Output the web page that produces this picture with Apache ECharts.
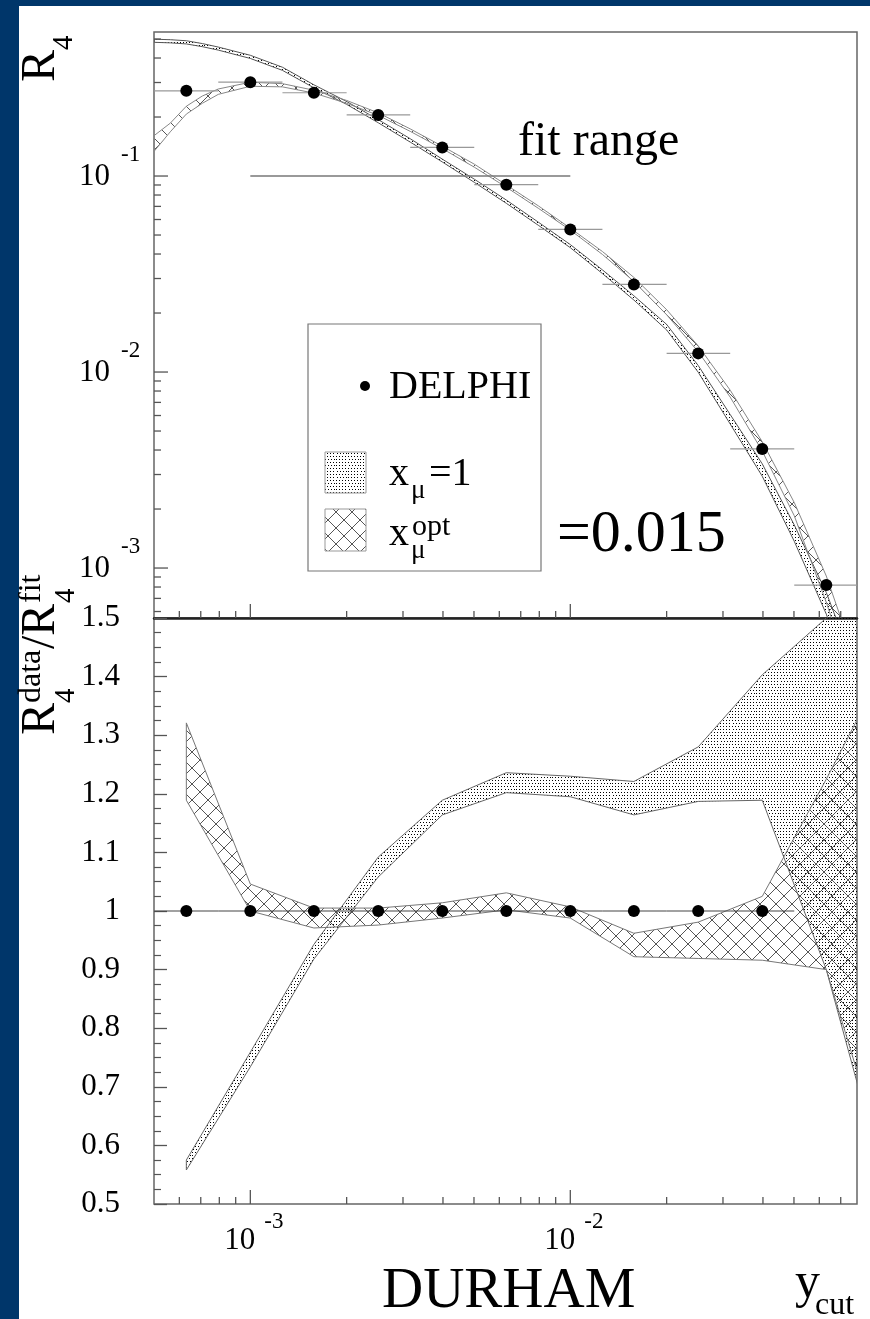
<!DOCTYPE html>
<html>
<head>
<meta charset="utf-8">
<title>R4 DURHAM</title>
<script src="https://cdn.jsdelivr.net/npm/echarts@6/dist/echarts.min.js"></script>
<style>
  html, body { margin: 0; padding: 0; background: #fff; }
  #main { width: 870px; height: 1319px; }
</style>
</head>
<body>
<div id="main"></div>
<script>
// ---- data ----
// DELPHI points (bin centres) and bin edges
var ycut = [6.31e-4, 1.0e-3, 1.58e-3, 2.51e-3, 3.98e-3, 6.31e-3, 1.0e-2, 1.58e-2, 2.51e-2, 3.98e-2, 6.31e-2];
var r4Data = [0.272, 0.301, 0.266, 0.205, 0.140, 0.0903, 0.0534, 0.0280, 0.01245, 0.00405, 0.000819];
var binEdges = [5.01e-4, 7.94e-4, 1.26e-3, 2.0e-3, 3.16e-3, 5.01e-3, 7.94e-3, 1.26e-2, 2.0e-2, 3.16e-2, 5.01e-2, 7.94e-2];
var ratioData = [1, 1, 1, 1, 1, 1, 1, 1, 1, 1];
var fitRange = [1.0e-3, 1.0e-2];
var fitLevel = 0.1;

// theory bands, upper panel
var curveX = [5.01e-4, 5.62e-4, 6.31e-4, 7.08e-4, 7.94e-4, 1.0e-3, 1.26e-3, 1.58e-3, 2.0e-3, 2.51e-3,
              3.16e-3, 3.98e-3, 5.01e-3, 6.31e-3, 7.94e-3, 1.0e-2, 1.26e-2, 1.58e-2, 2.0e-2, 2.51e-2,
              3.16e-2, 3.98e-2, 5.01e-2, 6.31e-2, 7.08e-2];
var mu1Low  = [0.481, 0.478, 0.472, 0.457, 0.439, 0.398, 0.346, 0.282, 0.232, 0.187,
               0.149, 0.118, 0.0929, 0.0726, 0.0561, 0.0431, 0.0318, 0.0233, 0.0164, 0.00998,
               0.00543, 0.00294, 0.00137, 0.000582, 0.000347];
var mu1High = [0.499, 0.496, 0.490, 0.474, 0.455, 0.413, 0.359, 0.292, 0.240, 0.194,
               0.155, 0.122, 0.0964, 0.0754, 0.0582, 0.0447, 0.0332, 0.0245, 0.0175, 0.0108,
               0.00607, 0.00340, 0.00166, 0.000750, 0.000457];
var optLow  = [0.134, 0.168, 0.207, 0.235, 0.261, 0.287, 0.285, 0.265, 0.235, 0.204,
               0.169, 0.138, 0.111, 0.0877, 0.0685, 0.0530, 0.0398, 0.0290, 0.0196, 0.0127,
               0.00745, 0.00395, 0.00185, 0.000668, 0.000380];
var optHigh = [0.161, 0.186, 0.227, 0.256, 0.278, 0.301, 0.296, 0.274, 0.243, 0.210,
               0.174, 0.142, 0.115, 0.0901, 0.0705, 0.0542, 0.0412, 0.0304, 0.0208, 0.0136,
               0.00808, 0.00441, 0.00216, 0.000910, 0.000530];

// ratio bands, lower panel
var ratioX = [6.31e-4, 1.0e-3, 1.58e-3, 2.51e-3, 3.98e-3, 6.31e-3, 1.0e-2, 1.58e-2, 2.51e-2, 3.98e-2, 6.31e-2, 7.94e-2];
var ratioMu1Low  = [0.558, 0.734, 0.918, 1.058, 1.164, 1.202, 1.195, 1.164, 1.187, 1.189, 0.900, 0.70];
var ratioMu1High = [0.575, 0.759, 0.943, 1.092, 1.189, 1.236, 1.230, 1.221, 1.280, 1.403, 1.50, 1.60];
var ratioOptLow  = [1.189, 1.000, 0.971, 0.976, 0.988, 1.002, 0.988, 0.922, 0.919, 0.916, 0.900, 0.72];
var ratioOptHigh = [1.321, 1.046, 1.005, 1.005, 1.014, 1.031, 1.007, 0.962, 0.981, 1.025, 1.225, 1.33];

// ticks and tick labels
var xMajorTicks = [1e-3, 1e-2];
var xMinorTicks = [6e-4, 7e-4, 8e-4, 9e-4, 2e-3, 3e-3, 4e-3, 5e-3, 6e-3, 7e-3, 8e-3, 9e-3,
                   2e-2, 3e-2, 4e-2, 5e-2, 6e-2, 7e-2];
var xTickExps = ['-3', '-2'];
var yMajorTicks = [1e-3, 1e-2, 1e-1];
var yMinorTicks = [6e-4, 7e-4, 8e-4, 9e-4, 2e-3, 3e-3, 4e-3, 5e-3, 6e-3, 7e-3, 8e-3, 9e-3,
                   2e-2, 3e-2, 4e-2, 5e-2, 6e-2, 7e-2, 8e-2, 9e-2, 0.2, 0.3, 0.4, 0.5];
var yTickExps = ['-3', '-2', '-1'];
var ratioLabels = ['0.5', '0.6', '0.7', '0.8', '0.9', '1', '1.1', '1.2', '1.3', '1.4', '1.5'];

// ---- styles ----
var NAVY = '#00366a';
var SERIF = '"Liberation Serif", "Times New Roman", serif';
function f(px) { return px + 'px ' + SERIF; }

// fill patterns
function makeDots() {
    var c = document.createElement('canvas');
    c.width = 24; c.height = 24;
    var g = c.getContext('2d');
    g.fillStyle = '#000';
    for (var y = 0; y < 24; y += 3) {
        for (var x = 0; x < 24; x += 3) {
            var alt = (x < 12) !== (y < 12);
            g.fillRect(alt ? x + (y / 3) % 2 : x, y, 1, 1);
        }
    }
    return c;
}
function makeHatch() {
    var s = 16;
    var c = document.createElement('canvas');
    c.width = s; c.height = s;
    var g = c.getContext('2d');
    g.strokeStyle = '#555';
    g.lineWidth = 1;
    g.beginPath();
    g.moveTo(-2, -2); g.lineTo(s + 2, s + 2);
    g.moveTo(s + 2, -2); g.lineTo(-2, s + 2);
    g.stroke();
    return c;
}
var dotFill = { image: makeDots(), repeat: 'repeat' };
var hatchFill = { image: makeHatch(), repeat: 'repeat' };

// ---- series helpers ----
function bandSeries(gi, xs, lo, hi, fill, edge, z) {
    var rows = xs.map(function (x, i) { return [x, lo[i], hi[i]]; });
    return {
        type: 'custom', xAxisIndex: gi, yAxisIndex: gi, clip: true, silent: true, z: z,
        data: rows,
        renderItem: function (params, api) {
            if (params.dataIndex !== 0) return;
            var a = rows.map(function (r) { return api.coord([r[0], r[1]]); });
            var b = rows.map(function (r) { return api.coord([r[0], r[2]]); }).reverse();
            return {
                type: 'polygon',
                shape: { points: a.concat(b) },
                style: { fill: fill, stroke: edge, lineWidth: 1 }
            };
        }
    };
}

function errSeries(gi, xs, ys, color) {
    var rows = xs.map(function (x, i) { return [x, ys[i], binEdges[i], binEdges[i + 1]]; });
    return {
        type: 'custom', xAxisIndex: gi, yAxisIndex: gi, clip: true, silent: true, z: 3,
        data: rows,
        renderItem: function (params, api) {
            var a = api.coord([api.value(2), api.value(1)]);
            var b = api.coord([api.value(3), api.value(1)]);
            return {
                type: 'line',
                shape: { x1: a[0], y1: a[1], x2: b[0], y2: b[1] },
                style: { stroke: color, lineWidth: 1.2 }
            };
        }
    };
}

function xTickSeries(gi, ticks, len, yRef) {
    return {
        type: 'custom', xAxisIndex: gi, yAxisIndex: gi, silent: true, z: 6,
        data: ticks.map(function (t) { return [t, yRef]; }),
        renderItem: function (params, api) {
            var cs = params.coordSys;
            var x = api.coord([api.value(0), api.value(1)])[0];
            var yb = cs.y + cs.height;
            return {
                type: 'line',
                shape: { x1: x, y1: yb, x2: x, y2: yb - len },
                style: { stroke: '#555', lineWidth: 1.3 }
            };
        }
    };
}

function yTickSeries(gi, ticks, len, xRef) {
    return {
        type: 'custom', xAxisIndex: gi, yAxisIndex: gi, silent: true, z: 6,
        data: ticks.map(function (t) { return [xRef, t]; }),
        renderItem: function (params, api) {
            var cs = params.coordSys;
            var y = api.coord([api.value(0), api.value(1)])[1];
            return {
                type: 'line',
                shape: { x1: cs.x, y1: y, x2: cs.x + len, y2: y },
                style: { stroke: '#555', lineWidth: 1.3 }
            };
        }
    };
}

// "10" with a raised exponent under the x axis
function xLabelSeries(gi, ticks, exps, yRef) {
    return {
        type: 'custom', xAxisIndex: gi, yAxisIndex: gi, silent: true, z: 6,
        data: ticks.map(function (t) { return [t, yRef]; }),
        renderItem: function (params, api) {
            var cs = params.coordSys;
            var x = api.coord([api.value(0), api.value(1)])[0];
            var yb = cs.y + cs.height;
            return {
                type: 'group',
                children: [
                    { type: 'text', style: { text: '10', x: x + 5, y: yb + 37, font: f(31), fill: '#000', align: 'right', verticalAlign: 'middle' } },
                    { type: 'text', style: { text: exps[params.dataIndex], x: x + 14, y: yb + 18, font: f(23), fill: '#000', align: 'left', verticalAlign: 'middle' } }
                ]
            };
        }
    };
}

// "10" with a raised exponent left of the log y axis
function yLabelSeries(gi, ticks, exps, xRef) {
    return {
        type: 'custom', xAxisIndex: gi, yAxisIndex: gi, silent: true, z: 6,
        data: ticks.map(function (t) { return [xRef, t]; }),
        renderItem: function (params, api) {
            var cs = params.coordSys;
            var y = api.coord([api.value(0), api.value(1)])[1];
            return {
                type: 'group',
                children: [
                    { type: 'text', style: { text: '10', x: cs.x - 44, y: y + 1, font: f(31), fill: '#000', align: 'right', verticalAlign: 'middle' } },
                    { type: 'text', style: { text: exps[params.dataIndex], x: cs.x - 33, y: y - 21, font: f(23), fill: '#000', align: 'left', verticalAlign: 'middle' } }
                ]
            };
        }
    };
}

function txt(text, x, y, size, align) {
    return { type: 'text', x: x, y: y, style: { text: text, font: f(size), fill: '#000', align: align || 'left', verticalAlign: 'middle' } };
}

var chart = echarts.init(document.getElementById('main'));

var option = {
    backgroundColor: '#fff',
    animation: false,
    grid: [
        { left: 154, top: 32, width: 703, height: 586, show: true, borderColor: '#666', borderWidth: 1.5, outerBoundsMode: 'none', containLabel: false },
        { left: 154, top: 618, width: 703, height: 586, show: true, borderColor: '#666', borderWidth: 1.5, outerBoundsMode: 'none', containLabel: false }
    ],
    xAxis: [
        {
            gridIndex: 0, type: 'log', logBase: 10, min: 5e-4, max: 0.0787,
            axisLine: { show: true, onZero: false, lineStyle: { color: '#222', width: 2.5 } },
            axisTick: { show: false }, axisLabel: { show: false }, splitLine: { show: false }
        },
        {
            gridIndex: 1, type: 'log', logBase: 10, min: 5e-4, max: 0.0787,
            axisLine: { show: false }, axisTick: { show: false }, axisLabel: { show: false }, splitLine: { show: false }
        }
    ],
    yAxis: [
        {
            gridIndex: 0, type: 'log', logBase: 10, min: 5.56e-4, max: 0.543,
            axisLine: { show: false }, axisTick: { show: false }, axisLabel: { show: false }, splitLine: { show: false }
        },
        {
            gridIndex: 1, type: 'value', min: 0.5, max: 1.5, interval: 0.1,
            axisLine: { show: false },
            axisTick: { show: true, inside: true, length: 13, lineStyle: { color: '#555', width: 1.3 } },
            minorTick: { show: true, splitNumber: 4, length: 7, lineStyle: { color: '#555', width: 1.2 } },
            splitLine: { show: false }, minorSplitLine: { show: false },
            axisLabel: {
                margin: 34, fontSize: 31, fontFamily: SERIF, color: '#000',
                formatter: function (v) { return ratioLabels[Math.round((v - 0.5) * 10)]; }
            }
        }
    ],
    series: [
        // upper panel
        bandSeries(0, curveX, mu1Low, mu1High, dotFill, '#555', 2),
        bandSeries(0, curveX, optLow, optHigh, hatchFill, '#888', 2),
        errSeries(0, ycut, r4Data, '#999'),
        {
            type: 'line', xAxisIndex: 0, yAxisIndex: 0, silent: true, symbol: 'none', z: 3,
            lineStyle: { color: '#777', width: 1.3 },
            data: [[fitRange[0], fitLevel], [fitRange[1], fitLevel]]
        },
        {
            type: 'scatter', xAxisIndex: 0, yAxisIndex: 0, silent: true, z: 5,
            symbol: 'circle', symbolSize: 12, itemStyle: { color: '#000', opacity: 1 },
            data: ycut.map(function (x, i) { return [x, r4Data[i]]; })
        },
        xTickSeries(0, xMinorTicks, 7, 0.01),
        xTickSeries(0, xMajorTicks, 14, 0.01),
        yTickSeries(0, yMinorTicks, 7, 1e-3),
        yTickSeries(0, yMajorTicks, 14, 1e-3),
        yLabelSeries(0, yMajorTicks, yTickExps, 1e-3),

        // lower panel
        bandSeries(1, ratioX, ratioMu1Low, ratioMu1High, dotFill, '#666', 2),
        bandSeries(1, ratioX, ratioOptLow, ratioOptHigh, hatchFill, '#777', 2),
        errSeries(1, ycut.slice(0, ratioData.length), ratioData, '#444'),
        {
            type: 'scatter', xAxisIndex: 1, yAxisIndex: 1, silent: true, z: 5,
            symbol: 'circle', symbolSize: 12, itemStyle: { color: '#000', opacity: 1 },
            data: ratioData.map(function (r, i) { return [ycut[i], r]; })
        },
        xTickSeries(1, xMinorTicks, 7, 1),
        xTickSeries(1, xMajorTicks, 14, 1),
        xLabelSeries(1, xMajorTicks, xTickExps, 1)
    ],
    graphic: [
        // navy frame of the slide
        { type: 'rect', shape: { x: 0, y: 0, width: 19, height: 1319 }, style: { fill: NAVY }, silent: true },
        { type: 'rect', shape: { x: 0, y: 0, width: 870, height: 6 }, style: { fill: NAVY }, silent: true },

        // axis titles
        {
            type: 'group', x: 41, y: 82, rotation: Math.PI / 2,
            children: [txt('R', 0, 0, 48), txt('4', 32, 23, 29)]
        },
        {
            type: 'group', x: 41, y: 735, rotation: Math.PI / 2,
            children: [
                txt('R', 0, 0, 48),
                txt('data', 32, -9, 32),
                txt('4', 32, 25, 29),
                txt('/', 86, 0, 48),
                txt('R', 99, 0, 48),
                txt('fit', 132, -9, 32),
                txt('4', 132, 25, 29)
            ]
        },
        txt('DURHAM', 382, 1292, 57),
        txt('y', 795, 1284, 50),
        txt('cut', 815, 1306, 32),
        txt('fit range', 518, 142, 48),

        // legend box
        { type: 'rect', shape: { x: 308, y: 324, width: 233, height: 247 }, style: { fill: '#fff', stroke: '#777', lineWidth: 1.2 }, z: 10 },
        { type: 'circle', shape: { cx: 365, cy: 386, r: 5 }, style: { fill: '#000' }, z: 11 },
        Object.assign(txt('DELPHI', 389, 387, 40), { z: 11 }),
        { type: 'rect', shape: { x: 325, y: 452, width: 41, height: 41 }, style: { fill: dotFill, stroke: '#999', lineWidth: 1 }, z: 11 },
        Object.assign(txt('x', 389, 474, 40), { z: 11 }),
        Object.assign(txt('\u03bc', 411, 491, 27), { z: 11 }),
        Object.assign(txt('=1', 429, 474, 40), { z: 11 }),
        { type: 'rect', shape: { x: 325, y: 509, width: 41, height: 42 }, style: { fill: hatchFill, stroke: '#999', lineWidth: 1 }, z: 11 },
        Object.assign(txt('x', 389, 534, 40), { z: 11 }),
        Object.assign(txt('\u03bc', 411, 551, 27), { z: 11 }),
        Object.assign(txt('opt', 412, 527, 30), { z: 11 }),
        Object.assign(txt('=0.015', 557, 535, 60), { z: 11 })
    ]
};

chart.setOption(option);
</script>
</body>
</html>
